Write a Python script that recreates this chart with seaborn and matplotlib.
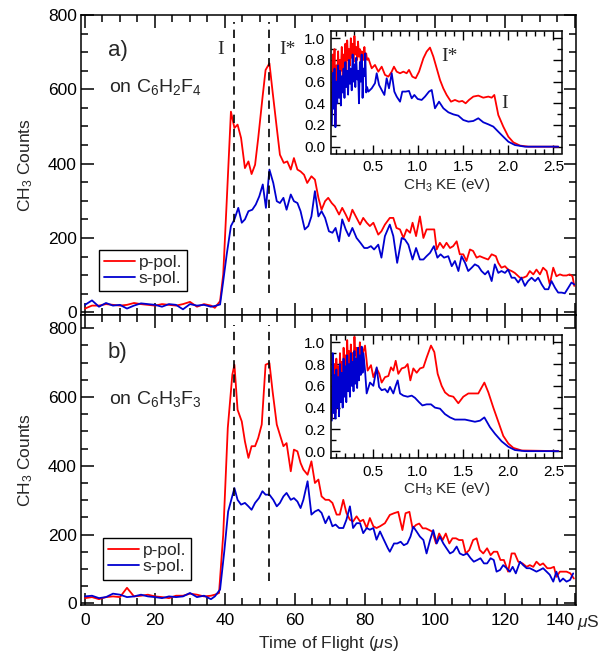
import numpy as np
import pandas as pd
import matplotlib
matplotlib.use("Agg")
import matplotlib.pyplot as plt
import seaborn as sns
from matplotlib.ticker import MultipleLocator, FormatStrFormatter

# ---------------- data: time-of-flight traces (us, counts) ----------------
base_t = [0, 2, 4, 6, 8, 10, 12, 14, 16, 18, 20, 22, 24, 26, 28, 30, 32, 34, 36]
a_p_base = [10, 18, 18, 22, 20, 18, 20, 25, 22, 20, 18, 22, 20, 18, 22, 28, 15, 22, 18]
a_s_base = [20, 32, 15, 25, 18, 20, 10, 18, 24, 22, 20, 15, 22, 20, 8, 22, 18, 20, 15]
b_p_base = [15, 18, 12, 18, 20, 18, 45, 20, 22, 25, 20, 18, 15, 22, 22, 28, 25, 20, 22]
b_s_base = [20, 22, 15, 18, 28, 25, 18, 20, 25, 20, 18, 15, 20, 18, 20, 30, 18, 22, 12]

a_p_t = [37.1, 38.6, 39.5, 40.5, 41.7, 42.7, 43.6, 44.6, 45.7, 46.7, 47.6, 48.6, 49.5, 50.7, 51.6,
         52.7, 53.6, 54.8, 55.7, 56.8, 57.8, 58.8, 59.7, 60.7, 61.6, 62.6, 63.5, 64.7, 65.7, 66.7,
         67.6, 68.6, 69.5, 70.5, 71.4, 72.6, 73.5, 74.5, 75.4, 76.4, 77.6, 78.6, 79.5, 80.5, 81.4,
         82.4, 83.8, 84.7, 85.7,
         87.1, 88.1, 89.0, 90.0, 91.0, 91.9, 92.9, 93.6, 94.6, 95.7, 96.7, 97.6, 98.6, 99.8, 100.5,
         101.4, 102.4, 103.3, 104.3, 105.2, 106.2, 107.1, 108.1, 109.0, 110.0, 110.9, 111.9, 112.8,
         113.8, 115.2, 116.2, 117.4, 118.1, 119.0, 120.0, 120.9, 121.9, 122.8, 124.3, 125.2, 126.2,
         127.1, 128.1, 129.0, 130.0, 130.9, 131.9, 132.8, 133.8, 134.7, 135.7, 136.6, 137.6, 138.5,
         139.3, 139.8]
a_p = [12, 30, 102, 299, 540, 496, 505, 469, 388, 406, 372, 397, 469, 576, 652,
       670, 594, 496, 424, 402, 406, 384, 415, 384, 379, 370, 348, 366, 357, 308,
       276, 299, 308, 294, 285, 263, 281, 263, 245, 276, 254, 236, 254, 241, 232,
       241, 209, 218, 236,
       254, 254, 227, 223, 200, 223, 214, 241, 205, 258, 200, 223, 223, 223, 169,
       187, 173, 187, 173, 178, 191, 156, 156, 138, 169, 165, 147, 151,
       147, 142, 156, 151, 133, 120, 124, 115, 111, 106, 93, 93, 97,
       111, 102, 115, 102, 120, 111, 75, 120, 97, 102, 99, 99, 102,
       97, 71]

a_s_t = [37.1, 38.6, 39.5, 40.5, 41.7, 42.7, 43.8, 44.8, 45.7, 46.7, 47.8, 48.8, 49.8, 50.8, 51.7,
         52.7, 53.8, 54.8, 55.7, 56.7, 57.6, 58.8, 59.7, 60.7, 61.6, 62.8, 63.8, 64.7, 65.7, 66.7,
         67.6, 68.6, 69.7, 70.7, 71.6, 72.6, 73.5, 74.5, 75.4, 76.4, 77.6, 78.7, 79.8, 80.7, 81.7,
         82.6, 83.8, 84.7, 85.7,
         87.1, 88.1, 89.2, 90.5, 91.4, 92.4, 93.6, 94.6, 95.7, 96.7, 97.6, 98.6, 99.7, 100.7, 101.6,
         102.6, 103.8, 104.8, 105.7, 106.7, 107.6, 108.6, 109.5, 110.5, 111.4, 112.4, 113.3, 114.3,
         115.2, 116.2, 117.1, 118.1, 119.0, 120.0, 120.9, 121.9, 122.8, 123.8, 124.7, 125.7, 126.6,
         127.6, 128.6, 129.5, 130.5, 131.4, 132.4, 133.3, 134.3, 135.2, 136.2, 137.1, 138.1, 139.0,
         139.8]
a_s = [17, 21, 84, 156, 232, 250, 281, 241, 250, 272, 276, 290, 312, 344, 281,
       384, 348, 299, 294, 308, 276, 317, 299, 294, 272, 223, 232, 258, 326, 258,
       272, 254, 218, 214, 227, 191, 250, 223, 205, 227, 200, 187, 173, 173, 178,
       169, 182, 147, 205,
       236, 205, 133, 200, 196, 182, 142, 173, 142, 142, 151, 160, 178, 147, 156,
       147, 151, 124, 138, 111, 151, 133, 111, 120, 129, 124, 111, 102,
       111, 84, 129, 106, 111, 106, 115, 93, 93, 80, 93, 71, 84,
       93, 84, 93, 75, 62, 62, 84, 66, 53, 53, 51, 66, 80,
       75]

b_p_t = [37.1, 38.3, 39.5, 40.8, 42.1, 42.7, 43.6, 44.8, 45.7, 46.7, 47.6, 48.6, 49.5, 50.5, 51.6,
         52.7, 53.6, 54.8, 55.7, 56.7, 57.6, 58.8, 59.7, 60.7, 61.6, 62.4, 63.6, 64.7, 65.7, 66.7,
         67.6, 68.7, 69.7, 70.7, 71.9, 72.8, 73.8, 74.7, 75.7, 76.6, 77.6, 78.6, 79.5, 80.5, 81.4,
         82.4, 83.3, 84.3, 85.7,
         87.1, 88.3, 89.5, 90.7, 91.6, 92.7, 93.6, 94.6, 95.5, 96.5, 97.4, 98.4, 99.3, 100.3, 101.2,
         102.2, 103.1, 104.1, 105.0, 106.0, 106.9, 107.9, 108.8, 109.8, 110.9, 111.9, 112.8, 113.8,
         114.9, 115.9, 116.8, 117.8, 118.7, 119.7, 120.9, 121.9, 122.8, 123.8, 125.0, 126.2, 127.1,
         128.1, 129.0, 130.0, 130.9, 132.1, 133.0, 134.0, 134.7, 135.7, 136.6, 137.6, 138.7, 139.7]
b_p = [25, 30, 200, 510, 665, 694, 563, 529, 471, 423, 457, 457, 481, 520, 694,
       699, 617, 520, 490, 457, 466, 384, 447, 442, 408, 389, 374, 413, 350, 360,
       311, 301, 301, 292, 258, 258, 301, 263, 243, 238, 253, 238, 243, 219, 248,
       224, 219, 224, 233,
       257, 262, 266, 213, 262, 266, 218, 228, 232, 218, 218, 213, 208, 174, 203,
       184, 203, 174, 189, 189, 184, 184, 145, 155, 184, 189, 155, 145,
       160, 140, 150, 150, 126, 126, 92, 145, 145, 121, 116, 106, 111,
       106, 121, 111, 116, 102, 102, 106, 77, 92, 92, 92, 87, 72]

b_s_t = [37.1, 38.6, 39.8, 40.9, 42.7, 43.6, 44.6, 45.7, 46.7, 47.6, 48.6, 49.7, 50.7, 51.6, 52.7,
         53.8, 54.8, 55.7, 56.7, 57.6, 58.8, 59.7, 60.7, 61.6, 62.4, 63.6, 64.7, 65.7, 66.7, 67.6,
         68.7, 69.7, 70.7, 71.6, 72.6, 73.8, 74.7, 75.7, 76.6, 77.6, 78.6, 79.5, 80.5, 81.4, 82.4,
         83.3, 84.3, 85.2, 86.5,
         87.1, 88.3, 89.2, 90.2, 91.1, 92.1, 93.0, 93.8, 94.8, 95.7, 96.7, 97.6, 98.6, 99.5, 100.5,
         101.4, 102.4, 103.3, 104.3, 105.2, 106.2, 107.1, 108.1, 109.2, 110.2, 111.1, 112.1, 113.0,
         114.0, 114.9, 115.9, 116.8, 117.6, 118.6, 119.5, 120.5, 121.4, 122.2, 123.1, 124.3, 125.2,
         126.2, 127.1, 128.1, 129.0, 130.0, 130.9, 131.9, 132.8, 133.8, 134.7, 135.7, 136.6, 137.6,
         138.6, 139.5]
b_s = [20, 40, 151, 267, 335, 301, 287, 292, 282, 272, 292, 306, 326, 316, 316,
       301, 282, 292, 311, 321, 301, 306, 296, 277, 301, 355, 258, 267, 272, 263,
       233, 253, 224, 229, 219, 219, 243, 282, 219, 233, 233, 204, 219, 214, 219,
       185, 209, 189, 161,
       150, 174, 174, 179, 169, 174, 194, 223, 208, 194, 184, 145, 184, 213, 174,
       194, 174, 160, 145, 150, 165, 145, 140, 145, 131, 121, 126, 131,
       116, 116, 131, 126, 92, 97, 111, 102, 92, 106, 87, 121, 111,
       102, 102, 97, 92, 97, 102, 92, 83, 63, 92, 63, 72, 63,
       68, 87]

# ---------------- data: inset kinetic-energy distributions (eV, normalised) ----------------
ke_noisy_a = [0.05, 0.06, 0.07, 0.08, 0.09, 0.10, 0.11, 0.12, 0.13, 0.14, 0.15, 0.16, 0.17, 0.18,
              0.19, 0.20, 0.21, 0.22, 0.23, 0.24, 0.25, 0.26, 0.27, 0.28, 0.29, 0.30, 0.31, 0.32,
              0.33, 0.34, 0.35, 0.36, 0.37, 0.38, 0.39, 0.40, 0.41, 0.42, 0.43, 0.44]
ia_p_noisy = [0.30, 0.85, 0.55, 0.90, 0.20, 0.75, 0.65, 0.88, 0.60, 0.80, 0.70, 0.92, 0.62, 0.85,
              0.72, 0.95, 0.66, 0.98, 0.80, 0.90, 0.75, 1.00, 0.82, 0.95, 0.78, 1.02, 0.85, 0.92,
              0.80, 0.97, 0.83, 0.90, 0.78, 0.88, 0.85, 0.80, 0.92, 0.82, 0.86, 0.80]
ia_s_noisy = [0.20, 0.68, 0.35, 0.72, 0.18, 0.60, 0.40, 0.75, 0.45, 0.70, 0.38, 0.65, 0.50, 0.72,
              0.45, 0.78, 0.55, 0.70, 0.48, 0.80, 0.58, 0.72, 0.52, 0.85, 0.60, 0.76, 0.55, 0.82,
              0.62, 0.70, 0.40, 0.78, 0.60, 0.85, 0.45, 0.72, 0.65, 0.86, 0.50, 0.55]
ia_p_ke = [0.454, 0.491, 0.527, 0.564, 0.601, 0.638, 0.675, 0.712, 0.737, 0.767, 0.804, 0.841,
           0.877, 0.903, 0.940, 0.977, 1.014, 1.062, 1.098, 1.135, 1.172, 1.209, 1.246, 1.282,
           1.319, 1.367, 1.411, 1.456, 1.492, 1.529, 1.566, 1.614, 1.669, 1.724, 1.780, 1.817,
           1.846, 1.890, 1.945, 2.001, 2.056, 2.130, 2.222, 2.553]
ia_p = [0.815, 0.723, 0.754, 0.692, 0.738, 0.662, 0.646, 0.692, 0.738, 0.692, 0.677, 0.692,
        0.677, 0.708, 0.646, 0.631, 0.692, 0.815, 0.877, 0.914, 0.831, 0.723, 0.615, 0.538,
        0.477, 0.415, 0.431, 0.415, 0.422, 0.400, 0.431, 0.462, 0.471, 0.452, 0.462, 0.452,
        0.477, 0.292, 0.185, 0.092, 0.040, 0.010, 0.0, 0.0]
ia_s_ke = [0.454, 0.491, 0.527, 0.546, 0.572, 0.601, 0.631, 0.656, 0.682, 0.712, 0.741, 0.767,
           0.804, 0.829, 0.866, 0.903, 0.933, 0.962, 0.999, 1.043, 1.080, 1.124, 1.154, 1.190,
           1.235, 1.283, 1.338, 1.393, 1.448, 1.503, 1.559, 1.614, 1.669, 1.724, 1.780, 1.835,
           1.890, 1.945, 2.001, 2.074, 2.185, 2.553]
ia_s = [0.508, 0.538, 0.585, 0.677, 0.569, 0.523, 0.477, 0.631, 0.538, 0.677, 0.508, 0.462,
        0.415, 0.508, 0.508, 0.514, 0.446, 0.477, 0.440, 0.431, 0.462, 0.508, 0.523, 0.354,
        0.415, 0.354, 0.317, 0.298, 0.286, 0.246, 0.231, 0.237, 0.262, 0.225, 0.206, 0.185,
        0.138, 0.092, 0.046, 0.015, 0.0, 0.0]

ke_noisy_b = [0.05, 0.06, 0.07, 0.08, 0.09, 0.10, 0.11, 0.12, 0.13, 0.14, 0.15, 0.16, 0.17, 0.18,
              0.19, 0.20, 0.21, 0.22, 0.23, 0.24, 0.25, 0.26, 0.27, 0.28, 0.29, 0.30, 0.31, 0.32,
              0.33, 0.34, 0.35, 0.36, 0.37, 0.38, 0.39, 0.40]
ib_p_noisy = [0.30, 0.88, 0.45, 0.80, 0.35, 0.85, 0.60, 0.78, 0.55, 0.90, 0.70, 0.82, 0.62, 0.95,
              0.75, 0.88, 0.68, 1.02, 0.80, 0.92, 0.72, 0.98, 0.85, 0.90, 0.78, 1.05, 0.88, 0.95,
              0.80, 0.92, 0.85, 1.00, 0.82, 0.95, 0.88, 0.92]
ib_s_noisy = [0.28, 0.90, 0.35, 0.70, 0.30, 0.75, 0.40, 0.68, 0.32, 0.80, 0.45, 0.72, 0.40, 0.85,
              0.50, 0.78, 0.45, 0.88, 0.55, 0.80, 0.50, 0.90, 0.60, 0.82, 0.55, 0.92, 0.62, 0.85,
              0.58, 0.95, 0.65, 0.88, 0.70, 0.96, 0.72, 0.90]
ib_p_ke = [0.417, 0.446, 0.483, 0.509, 0.546, 0.575, 0.601, 0.638, 0.675, 0.704, 0.730, 0.756,
           0.785, 0.822, 0.859, 0.888, 0.918, 0.951, 0.988, 1.025, 1.062, 1.098, 1.146, 1.183,
           1.220, 1.264, 1.301, 1.345, 1.393, 1.448, 1.503, 1.559, 1.614, 1.669, 1.736, 1.780,
           1.835, 1.890, 1.945, 2.001, 2.056, 2.148, 2.553]
ib_p = [0.97, 0.74, 0.79, 0.68, 0.76, 0.71, 0.63, 0.68, 0.69, 0.77, 0.74, 0.83,
        0.71, 0.76, 0.77, 0.80, 0.65, 0.76, 0.72, 0.76, 0.77, 0.86, 0.97, 0.91,
        0.71, 0.60, 0.54, 0.51, 0.50, 0.44, 0.50, 0.53, 0.53, 0.53, 0.63, 0.54,
        0.40, 0.27, 0.14, 0.07, 0.03, 0.006, 0.0]
ib_s_ke = [0.417, 0.435, 0.472, 0.509, 0.546, 0.572, 0.601, 0.638, 0.667, 0.693, 0.730, 0.756,
           0.778, 0.804, 0.841, 0.888, 0.933, 0.969, 1.014, 1.051, 1.098, 1.146, 1.190, 1.246,
           1.301, 1.356, 1.411, 1.467, 1.522, 1.577, 1.632, 1.688, 1.736, 1.798, 1.853, 1.927,
           2.001, 2.074, 2.185, 2.553]
ib_s = [0.74, 0.53, 0.63, 0.60, 0.77, 0.59, 0.56, 0.57, 0.54, 0.59, 0.53, 0.60,
        0.65, 0.53, 0.51, 0.50, 0.51, 0.49, 0.45, 0.42, 0.43, 0.43, 0.40, 0.39,
        0.34, 0.31, 0.29, 0.29, 0.29, 0.28, 0.27, 0.28, 0.31, 0.22, 0.16, 0.09,
        0.04, 0.01, 0.0, 0.0]

# markers of the I and I* arrival times (us) and their vertical extents (counts)
peak_times = [42.7, 52.7]
dash_span_a = [51, 782]
dash_span_b = [64, 810]

legend_labels = ["p-pol.", "s-pol."]
x_ticks = [0, 20, 40, 60, 80, 100, 120, 140]
RED = "#ff0000"
BLUE = "#0000d0"

# ---------------- style ----------------
sns.set_theme(style="ticks")
plt.rcParams["font.family"] = ["Liberation Sans", "DejaVu Sans"]
plt.rcParams["mathtext.fontset"] = "custom"
plt.rcParams["mathtext.rm"] = "Liberation Sans"
plt.rcParams["mathtext.it"] = "Liberation Sans:italic"
plt.rcParams["mathtext.bf"] = "Liberation Sans:bold"
plt.rcParams["axes.linewidth"] = 1.1
SERIF = ["Liberation Serif", "DejaVu Serif"]

W, H = 602, 658
fig = plt.figure(figsize=(W / 100, H / 100), dpi=100)


def frac(l, t, r, b):
    return [l / W, 1 - b / H, (r - l) / W, (b - t) / H]


ax1 = fig.add_axes(frac(81, 15, 576, 315))
ax2 = fig.add_axes(frac(81, 315, 576, 605))
ins1 = fig.add_axes(frac(331, 31, 562, 153.5))
ins2 = fig.add_axes(frac(331, 335, 562, 458))


def trace(ax, t, v, color, label=None, lw=1.3):
    df = pd.DataFrame({"t": t, "v": v})
    sns.lineplot(data=df, x="t", y="v", ax=ax, color=color, lw=lw, sort=False,
                 estimator=None, label=label, legend=False)


def style_main(ax, ylim):
    ax.set_xlim(-1.14, 140.3)
    ax.set_ylim(*ylim)
    ax.set_xticks(x_ticks)
    ax.xaxis.set_minor_locator(MultipleLocator(5))
    ax.yaxis.set_major_locator(MultipleLocator(200))
    ax.yaxis.set_minor_locator(MultipleLocator(50))
    ax.tick_params(which="both", direction="in", top=True, right=True, width=1.1,
                   colors="black", labelsize=12.5)
    ax.tick_params(which="major", length=9)
    ax.tick_params(which="minor", length=5)
    ax.tick_params(axis="y", pad=3)
    ax.tick_params(axis="x", pad=6)
    for s in ax.spines.values():
        s.set_color("black")
        s.set_linewidth(1.1)
    ax.set_xlabel("")
    ax.set_ylabel("CH$_3$ Counts", fontsize=12.5, labelpad=9)
    ax.set_facecolor("white")


def style_inset(ax):
    ax.set_xlim(0.041, 2.594)
    ax.set_ylim(-0.063, 1.067)
    ax.set_xticks([0.5, 1.0, 1.5, 2.0, 2.5])
    ax.xaxis.set_minor_locator(MultipleLocator(0.1))
    ax.yaxis.set_major_locator(MultipleLocator(0.2))
    ax.yaxis.set_minor_locator(MultipleLocator(0.1))
    ax.xaxis.set_major_formatter(FormatStrFormatter("%.1f"))
    ax.yaxis.set_major_formatter(FormatStrFormatter("%.1f"))
    ax.tick_params(which="both", direction="in", top=True, right=True, width=1.0,
                   colors="black", labelsize=11)
    ax.tick_params(which="major", length=6.5)
    ax.tick_params(which="minor", length=3.5)
    ax.tick_params(axis="y", pad=4)
    ax.tick_params(axis="x", pad=5)
    for s in ax.spines.values():
        s.set_color("black")
        s.set_linewidth(1.1)
    ax.set_xlabel("CH$_3$ KE (eV)", fontsize=11, labelpad=1)
    ax.set_ylabel("")
    ax.set_facecolor("white")


# ---------------- panel a ----------------
trace(ax1, base_t + a_p_t, a_p_base + a_p, RED, legend_labels[0])
trace(ax1, base_t + a_s_t, a_s_base + a_s, BLUE, legend_labels[1])
ax1.vlines(peak_times, dash_span_a[0], dash_span_a[1], colors="black", lw=1.2,
           linestyles=(0, (5, 3.5)))
style_main(ax1, (-7.3, 800))
ax1.tick_params(labelbottom=False)
ax1.text(0.0545, 0.863, "a)", transform=ax1.transAxes, fontsize=16, ha="left", va="baseline")
ax1.text(0.057, 0.744, "on C$_6$H$_2$F$_4$", transform=ax1.transAxes, fontsize=14,
         ha="left", va="baseline")
ax1.text(38.6, 706, "I", fontsize=14, family=SERIF, ha="center", va="center")
ax1.text(57.9, 706, "I*", fontsize=14, family=SERIF, ha="center", va="center")
leg1 = ax1.legend(loc="upper left", bbox_to_anchor=(0.036, 0.217), borderaxespad=0,
                  frameon=True, fancybox=False, edgecolor="black", framealpha=1,
                  fontsize=12.5, handlelength=1.8, handletextpad=0.2, borderpad=0.3,
                  labelspacing=0.05)
leg1.get_frame().set_linewidth(1.0)

# ---------------- panel b ----------------
trace(ax2, base_t + b_p_t, b_p_base + b_p, RED, legend_labels[0])
trace(ax2, base_t + b_s_t, b_s_base + b_s, BLUE, legend_labels[1])
ax2.vlines(peak_times, dash_span_b[0], dash_span_b[1], colors="black", lw=1.2,
           linestyles=(0, (5, 3.5)))
style_main(ax2, (-5, 838.7))
ax2.set_xticklabels([str(v) for v in x_ticks])
ax2.get_xticklabels()[-1].set_horizontalalignment("right")
ax2.set_xlabel("Time of Flight ($\\mu$s)", fontsize=12.5, labelpad=4)
ax2.text(0.0545, 0.851, "b)", transform=ax2.transAxes, fontsize=16, ha="left", va="baseline")
ax2.text(0.057, 0.693, "on C$_6$H$_3$F$_3$", transform=ax2.transAxes, fontsize=14,
         ha="left", va="baseline")
leg2 = ax2.legend(loc="upper left", bbox_to_anchor=(0.044, 0.231), borderaxespad=0,
                  frameon=True, fancybox=False, edgecolor="black", framealpha=1,
                  fontsize=12.5, handlelength=1.8, handletextpad=0.2, borderpad=0.3,
                  labelspacing=0.05)
leg2.get_frame().set_linewidth(1.0)
fig.text(577 / W, 1 - 622 / H, "$\\mu$S", fontsize=12.5, ha="left", va="center")

# ---------------- insets ----------------
trace(ins1, ke_noisy_a + ia_p_ke, ia_p_noisy + ia_p, RED)
trace(ins1, ke_noisy_a + ia_s_ke, ia_s_noisy + ia_s, BLUE)
style_inset(ins1)
ins1.text(1.345, 0.83, "I*", fontsize=14, family=SERIF, ha="center", va="center")
ins1.text(1.964, 0.40, "I", fontsize=14, family=SERIF, ha="center", va="center")

trace(ins2, ke_noisy_b + ib_p_ke, ib_p_noisy + ib_p, RED)
trace(ins2, ke_noisy_b + ib_s_ke, ib_s_noisy + ib_s, BLUE)
style_inset(ins2)

fig.savefig("out.png", dpi=100)
